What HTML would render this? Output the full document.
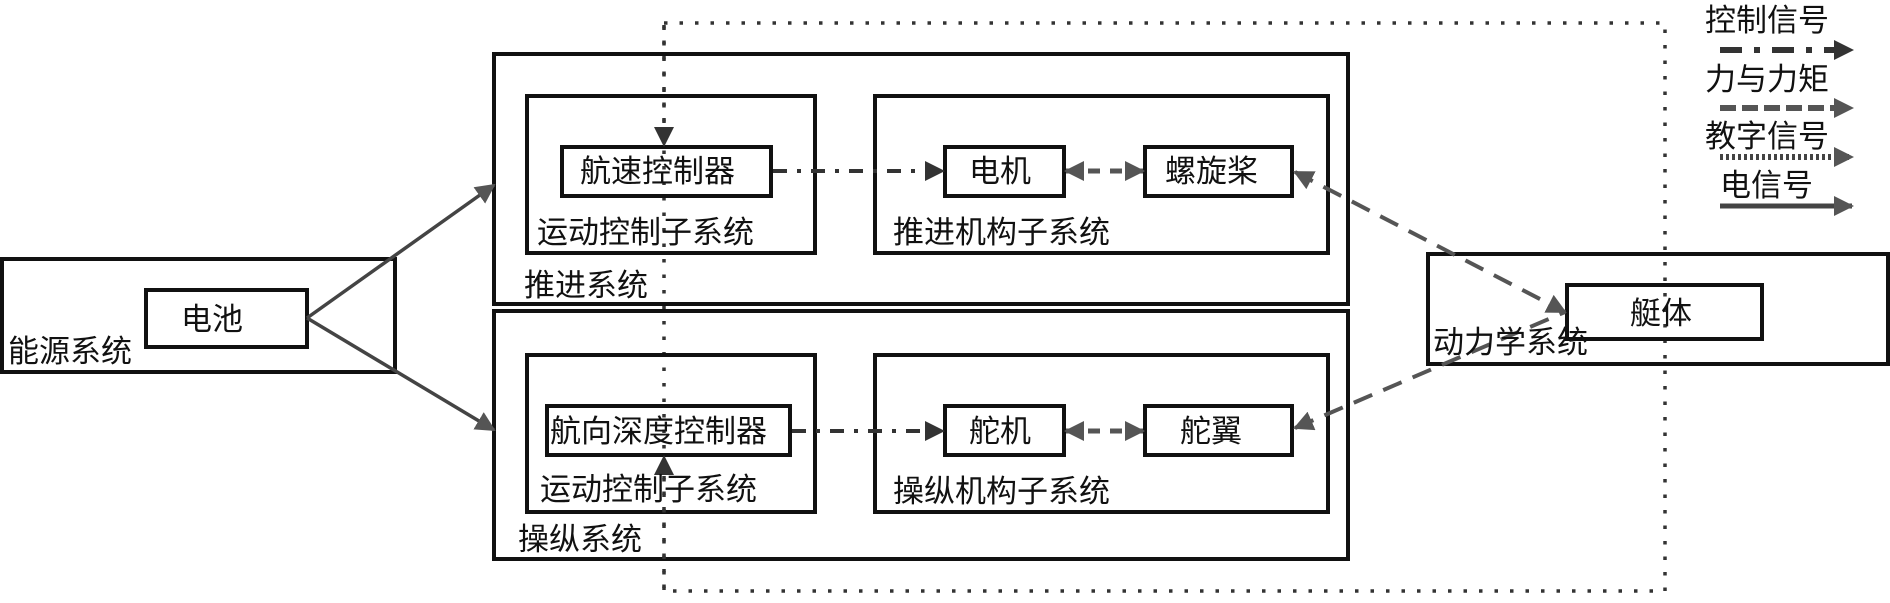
<!DOCTYPE html>
<html><head><meta charset="utf-8"><style>
html,body{margin:0;padding:0;background:#fff}
svg text{font-family:"Liberation Sans","Noto Sans CJK SC","WenQuanYi Zen Hei",sans-serif;font-size:31px;fill:#111}
</style></head><body>
<svg width="1890" height="598" viewBox="0 0 1890 598" xmlns="http://www.w3.org/2000/svg">
<defs>
<marker id="ah" markerWidth="8" markerHeight="8" refX="7" refY="4" orient="auto" markerUnits="userSpaceOnUse" viewBox="0 0 8 8"><path d="M0,0 L8,4 L0,8z" fill="#444"/></marker>
<marker id="ahb" markerWidth="20" markerHeight="20" refX="18" refY="10" orient="auto-start-reverse" markerUnits="userSpaceOnUse" viewBox="0 0 20 20"><path d="M0,0 L20,10 L0,20z" fill="#555"/></marker>
<marker id="ahd" markerWidth="20" markerHeight="20" refX="18" refY="10" orient="auto-start-reverse" markerUnits="userSpaceOnUse" viewBox="0 0 20 20"><path d="M0,0 L20,10 L0,20z" fill="#333"/></marker>
</defs>
<!-- dotted big rect -->
<rect x="664" y="23" width="1001" height="568" fill="none" stroke="#333" stroke-width="3.5" stroke-dasharray="3.5 12"/>
<g fill="none" stroke="#111" stroke-width="4">
<rect x="2" y="259" width="393" height="113"/>
<rect x="146" y="290" width="161" height="57"/>
<rect x="494" y="54" width="854" height="250"/>
<rect x="494" y="311" width="854" height="248"/>
<rect x="527" y="96" width="288" height="157"/>
<rect x="562" y="147" width="209" height="49"/>
<rect x="875" y="96" width="453" height="157"/>
<rect x="945" y="147" width="119" height="49"/>
<rect x="1145" y="147" width="147" height="49"/>
<rect x="527" y="355" width="288" height="157"/>
<rect x="547" y="406" width="243" height="49"/>
<rect x="875" y="355" width="453" height="157"/>
<rect x="945" y="406" width="119" height="49"/>
<rect x="1145" y="406" width="147" height="49"/>
<rect x="1428" y="254" width="460" height="110"/>
<rect x="1567" y="285" width="195" height="54"/>
</g>
<!-- electric arrows -->
<line x1="307" y1="318" x2="494" y2="185" stroke="#444" stroke-width="3.5" marker-end="url(#ahb)"/>
<line x1="307" y1="318" x2="494" y2="430" stroke="#444" stroke-width="3.5" marker-end="url(#ahb)"/>
<!-- control dash-dot -->
<line x1="773" y1="171" x2="943" y2="171" stroke="#333" stroke-width="4" stroke-dasharray="14 10 4 10" marker-end="url(#ahd)"/>
<line x1="792" y1="431" x2="943" y2="431" stroke="#333" stroke-width="4" stroke-dasharray="14 10 4 10" marker-end="url(#ahd)"/>
<!-- dotted to controllers -->
<line x1="664" y1="25" x2="664" y2="145" stroke="#333" stroke-width="3.5" stroke-dasharray="3.5 12" marker-end="url(#ahd)"/>
<line x1="664" y1="590" x2="664" y2="457" stroke="#333" stroke-width="3.5" stroke-dasharray="3.5 12" marker-end="url(#ahd)"/>
<!-- force double arrows -->
<line x1="1066" y1="171" x2="1143" y2="171" stroke="#555" stroke-width="5" stroke-dasharray="12 10" marker-start="url(#ahb)" marker-end="url(#ahb)"/>
<line x1="1066" y1="431" x2="1143" y2="431" stroke="#555" stroke-width="5" stroke-dasharray="12 10" marker-start="url(#ahb)" marker-end="url(#ahb)"/>
<line x1="1295" y1="172" x2="1565" y2="312" stroke="#555" stroke-width="4" stroke-dasharray="20 12" marker-start="url(#ahb)" marker-end="url(#ahb)"/>
<line x1="1295" y1="428" x2="1565" y2="312" stroke="#555" stroke-width="4" stroke-dasharray="20 12" marker-start="url(#ahb)"/>
<!-- legend arrows -->
<line x1="1720" y1="50" x2="1852" y2="50" stroke="#333" stroke-width="6" stroke-dasharray="22 12 6 12" marker-end="url(#ahd)"/>
<line x1="1720" y1="108" x2="1852" y2="108" stroke="#555" stroke-width="6" stroke-dasharray="16 6" marker-end="url(#ahb)"/>
<line x1="1720" y1="157" x2="1852" y2="157" stroke="#444" stroke-width="6" stroke-dasharray="3 3" marker-end="url(#ahb)"/>
<line x1="1720" y1="206" x2="1852" y2="206" stroke="#444" stroke-width="5" marker-end="url(#ahb)"/>
<!-- text -->
<text x="181" y="330">电池</text>
<text x="8" y="362">能源系统</text>
<text x="580" y="182">航速控制器</text>
<text x="537" y="243">运动控制子系统</text>
<text x="524" y="296">推进系统</text>
<text x="969" y="182">电机</text>
<text x="1165" y="182">螺旋桨</text>
<text x="893" y="243">推进机构子系统</text>
<text x="550" y="442">航向深度控制器</text>
<text x="540" y="500">运动控制子系统</text>
<text x="518" y="550">操纵系统</text>
<text x="969" y="442">舵机</text>
<text x="1180" y="442">舵翼</text>
<text x="893" y="502">操纵机构子系统</text>
<text x="1630" y="324">艇体</text>
<text x="1433" y="353">动力学系统</text>
<text x="1705" y="31">控制信号</text>
<text x="1705" y="90">力与力矩</text>
<text x="1705" y="147">教字信号</text>
<text x="1720" y="196">电信号</text>
</svg>
</body></html>
